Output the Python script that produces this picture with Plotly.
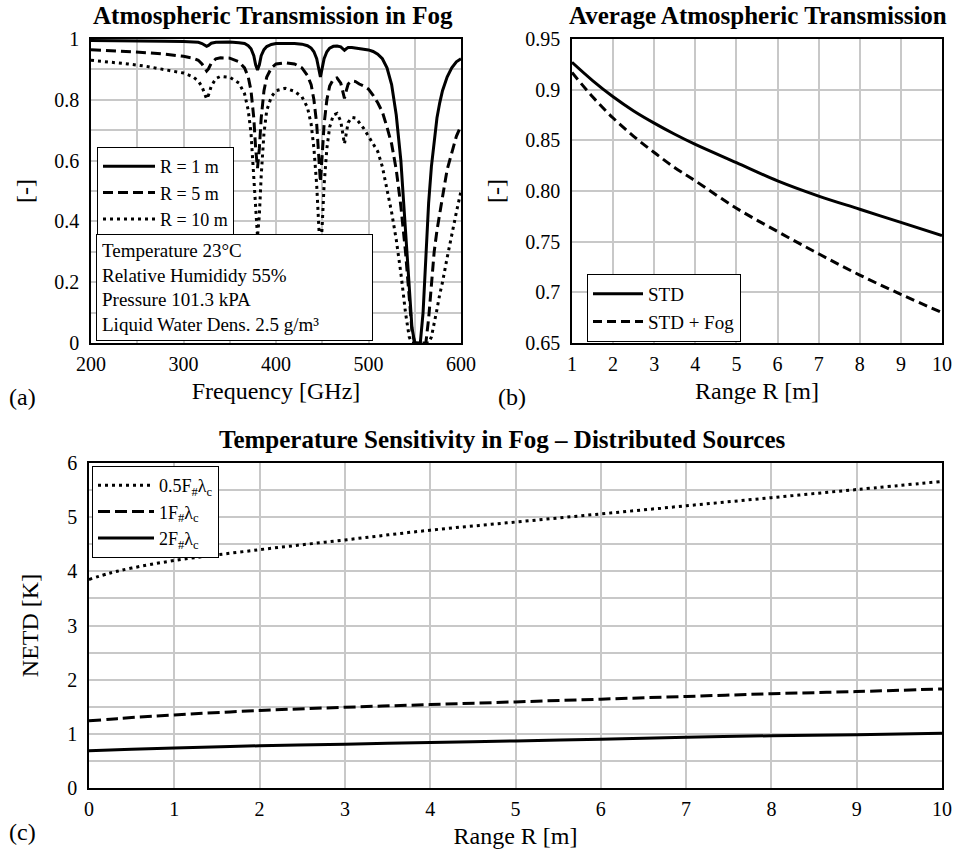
import plotly.graph_objects as go

FONT = "Liberation Serif"
GRID = "#c8c8c8"
W, H = 955, 858

# ---------------- Panel (a) data ----------------
freq_ghz = [200, 220, 240, 260, 280, 300, 310, 316, 320, 323, 325, 327, 330, 335, 340, 350, 360, 366, 370,
            373, 376, 378, 380, 382, 384, 387, 390, 395, 400, 410, 420, 428, 434, 438, 441, 444, 446, 448,
            450, 452, 455, 458, 462, 466, 470, 472, 474, 476, 478, 482, 486, 490, 495, 500, 505, 510, 515,
            520, 525, 530, 535, 540, 544, 547, 550, 553, 556, 559, 562, 565, 568, 571, 574, 577, 580, 585,
            590, 595, 600]

trans_r1 = [0.995, 0.995, 0.994, 0.994, 0.993, 0.992, 0.991, 0.989, 0.985, 0.978, 0.976, 0.979, 0.986, 0.989,
            0.990, 0.990, 0.988, 0.985, 0.978, 0.968, 0.945, 0.915, 0.898, 0.915, 0.945, 0.965, 0.975, 0.982,
            0.985, 0.986, 0.985, 0.983, 0.978, 0.970, 0.958, 0.935, 0.905, 0.875, 0.905, 0.935, 0.958, 0.970,
            0.976, 0.977, 0.974, 0.968, 0.963, 0.968, 0.972, 0.972, 0.970, 0.969, 0.967, 0.964, 0.959, 0.950,
            0.935, 0.905, 0.850, 0.750, 0.600, 0.380, 0.180, 0.050, 0.0, 0.0, 0.0, 0.10, 0.30, 0.46, 0.58,
            0.67, 0.74, 0.79, 0.83, 0.875, 0.905, 0.925, 0.935]

trans_r5 = [0.965, 0.962, 0.958, 0.955, 0.950, 0.943, 0.937, 0.930, 0.918, 0.902, 0.895, 0.902, 0.920, 0.935,
            0.938, 0.937, 0.925, 0.905, 0.875, 0.830, 0.740, 0.640, 0.575, 0.640, 0.740, 0.830, 0.875, 0.905,
            0.918, 0.922, 0.918, 0.905, 0.880, 0.850, 0.800, 0.720, 0.620, 0.530, 0.620, 0.720, 0.800, 0.845,
            0.868, 0.872, 0.855, 0.830, 0.805, 0.830, 0.852, 0.862, 0.860, 0.852, 0.845, 0.835, 0.815, 0.790,
            0.760, 0.710, 0.655, 0.570, 0.450, 0.300, 0.150, 0.040, 0.0, 0.0, 0.0, 0.0, 0.0, 0.08, 0.20,
            0.30, 0.37, 0.43, 0.48, 0.57, 0.63, 0.68, 0.715]

trans_r10 = [0.930, 0.925, 0.918, 0.910, 0.900, 0.888, 0.876, 0.862, 0.843, 0.815, 0.803, 0.815, 0.845, 0.870,
             0.877, 0.874, 0.855, 0.820, 0.765, 0.690, 0.550, 0.420, 0.350, 0.420, 0.550, 0.690, 0.765, 0.810,
             0.830, 0.838, 0.828, 0.810, 0.775, 0.720, 0.640, 0.520, 0.390, 0.280, 0.390, 0.520, 0.640, 0.710,
             0.750, 0.755, 0.730, 0.690, 0.655, 0.690, 0.725, 0.742, 0.740, 0.725, 0.705, 0.680, 0.655, 0.630,
             0.580, 0.510, 0.430, 0.340, 0.230, 0.100, 0.020, 0.0, 0.0, 0.0, 0.0, 0.0, 0.0, 0.0, 0.02,
             0.06, 0.11, 0.16, 0.20, 0.28, 0.36, 0.43, 0.50]

# ---------------- Panel (b) data ----------------
range_b = [1, 1.5, 2, 2.5, 3, 3.5, 4, 5, 6, 7, 8, 9, 10]
avg_std = [0.927, 0.909, 0.893, 0.879, 0.867, 0.856, 0.846, 0.828, 0.810, 0.795, 0.782, 0.769, 0.756]
avg_std_fog = [0.917, 0.893, 0.872, 0.854, 0.838, 0.823, 0.810, 0.783, 0.760, 0.738, 0.717, 0.698, 0.680]
b_tickvals = [0.65, 0.7, 0.75, 0.8, 0.85, 0.9, 0.95]
b_ticktext = ["0.65", "0.7", "0.75", "0.80", "0.85", "0.9", "0.95"]

# ---------------- Panel (c) data ----------------
range_c = [0, 0.25, 0.5, 1, 2, 3, 4, 5, 6, 7, 8, 9, 10]
netd_05 = [3.85, 3.97, 4.06, 4.20, 4.40, 4.58, 4.76, 4.91, 5.06, 5.21, 5.36, 5.51, 5.66]
netd_1 = [1.24, 1.27, 1.30, 1.35, 1.43, 1.49, 1.54, 1.59, 1.64, 1.69, 1.74, 1.78, 1.83]
netd_2 = [0.69, 0.70, 0.715, 0.74, 0.78, 0.81, 0.84, 0.87, 0.90, 0.935, 0.965, 0.985, 1.01]


def px_x(p):
    return p / W


def px_y(p):
    return 1 - p / H


fig = go.Figure()

LW = 3
fig.add_trace(go.Scatter(x=freq_ghz, y=trans_r1, mode="lines", name="R = 1 m",
                         line=dict(color="black", width=LW), xaxis="x", yaxis="y", legend="legend"))
fig.add_trace(go.Scatter(x=freq_ghz, y=trans_r5, mode="lines", name="R = 5 m",
                         line=dict(color="black", width=LW, dash="10px,5px"), xaxis="x", yaxis="y",
                         legend="legend"))
fig.add_trace(go.Scatter(x=freq_ghz, y=trans_r10, mode="lines", name="R = 10 m",
                         line=dict(color="black", width=LW, dash="3px,4px"), xaxis="x", yaxis="y",
                         legend="legend"))

fig.add_trace(go.Scatter(x=range_b, y=avg_std, mode="lines", name="STD", line_shape="spline",
                         line=dict(color="black", width=LW), xaxis="x2", yaxis="y2", legend="legend2"))
fig.add_trace(go.Scatter(x=range_b, y=avg_std_fog, mode="lines", name="STD + Fog", line_shape="spline",
                         line=dict(color="black", width=LW, dash="9px,5px"), xaxis="x2", yaxis="y2",
                         legend="legend2"))

fig.add_trace(go.Scatter(x=range_c, y=netd_05, mode="lines", name="0.5F<sub>#</sub>λ<sub>c</sub>",
                         line_shape="spline",
                         line=dict(color="black", width=LW, dash="3px,4px"), xaxis="x3", yaxis="y3",
                         legend="legend3"))
fig.add_trace(go.Scatter(x=range_c, y=netd_1, mode="lines", name="1F<sub>#</sub>λ<sub>c</sub>",
                         line_shape="spline",
                         line=dict(color="black", width=LW, dash="12px,5px"), xaxis="x3", yaxis="y3",
                         legend="legend3"))
fig.add_trace(go.Scatter(x=range_c, y=netd_2, mode="lines", name="2F<sub>#</sub>λ<sub>c</sub>",
                         line_shape="spline",
                         line=dict(color="black", width=LW), xaxis="x3", yaxis="y3", legend="legend3"))

tickfont = dict(family=FONT, size=20, color="black")
titlefont = dict(family=FONT, size=24, color="black")


def ax(**kw):
    d = dict(showline=True, mirror=True, linecolor="black", linewidth=1.5, showgrid=True,
             gridcolor=GRID, gridwidth=1.5, zeroline=False, ticks="", tickfont=tickfont,
             automargin=False)
    d.update(kw)
    return d


def minor_grid(dt):
    return dict(dtick=dt, showgrid=True, gridcolor=GRID, gridwidth=1.5, ticks="")


def legend_style(size, iw):
    return dict(bordercolor="black", borderwidth=1, bgcolor="white",
                font=dict(family=FONT, size=size, color="black"), tracegroupgap=0,
                itemwidth=iw,
                xanchor="left", yanchor="top", xref="paper", yref="paper")


fig.update_layout(
    width=W, height=H, margin=dict(l=0, r=0, t=0, b=0),
    paper_bgcolor="white", plot_bgcolor="white",
    font=dict(family=FONT, color="black"),
    xaxis=ax(domain=[px_x(91), px_x(461)], range=[200, 600], tick0=200, dtick=100, anchor="y",
             minor=minor_grid(50), ticklabelstandoff=2,
             title=dict(text="Frequency [GHz]", font=titlefont, standoff=8)),
    yaxis=ax(domain=[px_y(343), px_y(39)], range=[0, 1], tick0=0, dtick=0.2, anchor="x",
             minor=minor_grid(0.1), ticklabelstandoff=6,
             title=dict(text="[-]", font=titlefont, standoff=14)),
    xaxis2=ax(domain=[px_x(572), px_x(942)], range=[1, 10], dtick=1, anchor="y2", ticklabelstandoff=2,
              title=dict(text="Range R [m]", font=titlefont, standoff=8)),
    yaxis2=ax(domain=[px_y(343), px_y(39)], range=[0.65, 0.95], tickvals=b_tickvals,
              ticktext=b_ticktext, anchor="x2", ticklabelstandoff=6,
              title=dict(text="[-]", font=titlefont, standoff=14)),
    xaxis3=ax(domain=[px_x(89), px_x(942)], range=[0, 10], dtick=1, anchor="y3", ticklabelstandoff=2,
              title=dict(text="Range R [m]", font=titlefont, standoff=8)),
    yaxis3=ax(domain=[px_y(788), px_y(463)], range=[0, 6], dtick=1, anchor="x3",
              minor=minor_grid(0.5), ticklabelstandoff=6,
              title=dict(text="NETD [K]", font=titlefont, standoff=22)),
    legend=dict(x=px_x(97), y=px_y(147), **legend_style(18, 52)),
    legend2=dict(x=px_x(587), y=px_y(274), **legend_style(19, 50)),
    legend3=dict(x=px_x(92), y=px_y(466), **legend_style(18, 56)),
    showlegend=True,
)

bold = dict(family=FONT, size=25, color="black")
annots = [
    dict(text="<b>Atmospheric Transmission in Fog</b>", x=px_x(273), y=px_y(15), font=bold),
    dict(text="<b>Average Atmospheric Transmission</b>", x=px_x(758), y=px_y(15), font=bold),
    dict(text="<b>Temperature Sensitivity in Fog – Distributed Sources</b>", x=px_x(502), y=px_y(440),
         font=bold),
    dict(text="(a)", x=px_x(22), y=px_y(397), font=titlefont),
    dict(text="(b)", x=px_x(512), y=px_y(397), font=titlefont),
    dict(text="(c)", x=px_x(22), y=px_y(832), font=titlefont),
]
for a in annots:
    fig.add_annotation(xref="paper", yref="paper", showarrow=False, xanchor="center", yanchor="middle", **a)

fig.add_annotation(
    xref="paper", yref="paper", x=px_x(96), y=px_y(234), xanchor="left", yanchor="top",
    showarrow=False, align="left", width=265, borderpad=5, bordercolor="black", borderwidth=1,
    bgcolor="white",
    text="Temperature 23°C<br>Relative Humididy 55%<br>Pressure 101.3 kPA<br>Liquid Water Dens. 2.5 g/m³",
    font=dict(family=FONT, size=19, color="black"),
)

fig.write_html("out.html")
